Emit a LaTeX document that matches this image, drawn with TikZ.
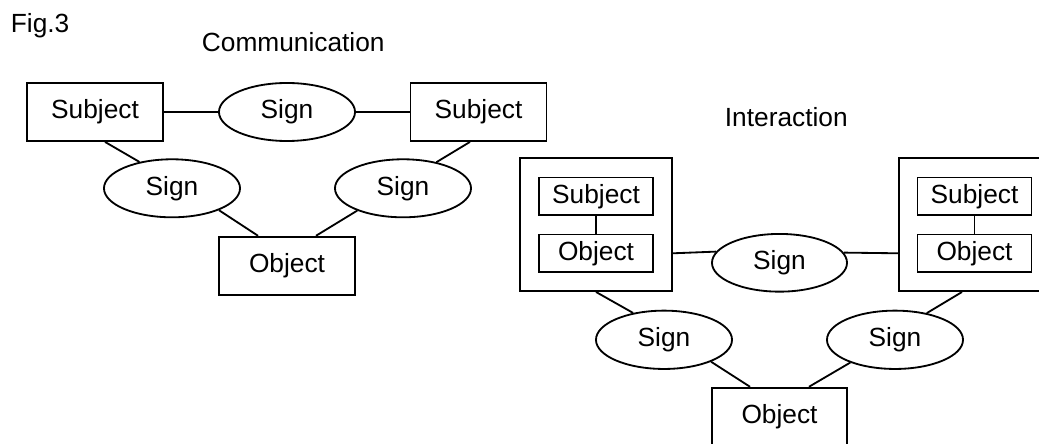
\documentclass[tikz,border=0pt]{standalone}
\usepackage{fontspec}
\setmainfont{Liberation Sans}
\usetikzlibrary{shapes.geometric,calc}

\tikzset{
  base/.style={line width=1.3pt, inner sep=0pt, font=\fontsize{18.7}{22}\selectfont},
  box/.style={base, draw, rectangle, minimum width=3.4cm, minimum height=1.45cm},
  sign/.style={base, draw, ellipse, minimum width=3.4cm, minimum height=1.45cm},
  outer/.style={base, draw, rectangle, minimum width=3.8cm, minimum height=3.3175cm},
  inner/.style={base, draw, rectangle, minimum width=2.85cm, minimum height=0.9375cm},
  label/.style={base, anchor=base west},
  link/.style={line width=1.3pt}
}

\begin{document}
\begin{tikzpicture}[x=0.025cm, y=-0.025cm]
\useasboundingbox (0,0) rectangle (1039,444);
\clip (0,0) rectangle (1039,444);

% titles
\node[label] (fig)  at (10,32.5)  {Fig.3};
\node[label] (comm) at (201,51.5) {Communication};
\node[label] (inter) at (724,126.5) {Interaction};

% communication triangle
\node[box]  (subjL) at (95,112)   {Subject};
\node[sign] (signT) at (287,112)  {Sign};
\node[box]  (subjR) at (478.5,112) {Subject};
\node[sign] (signL) at (172,188.3) {Sign};
\node[sign] (signR) at (403,188.3) {Sign};
\node[box]  (objB)  at (287,265.7) {Object};

\draw[link] (subjL.east) -- (signT.west);
\draw[link] (signT.east) -- (subjR.west);
\draw[link] ($(subjL.south)+(10,0)$) -- (signL.141.3);
\draw[link] ($(subjR.south)+(-8.5,0)$) -- (signR.38.7);
\draw[link] (signL.-25.3) -- ($(objB.north)+(-29,0)$);
\draw[link] (signR.-154.7) -- ($(objB.north)+(29,0)$);

% interaction triangle
\node[outer] (outL) at (596,224.7) {};
\node[inner] (subjInL) at (596,196.3) {Subject};
\node[inner] (objInL)  at (596,253.3) {Object};
\draw[link] (subjInL.south) -- (objInL.north);

\node[outer] (outR) at (975,224.7) {};
\node[inner] (subjInR) at (974.5,196.3) {Subject};
\node[inner] (objInR)  at (974.5,253.3) {Object};
\draw[link] (subjInR.south) -- (objInR.north);

\node[sign, minimum width=3.375cm, minimum height=1.4425cm] (signM) at (779.5,262.8) {Sign};
\node[sign, minimum height=1.4575cm] (signLL) at (664,339.8) {Sign};
\node[sign, minimum height=1.4575cm] (signLR) at (895,339.8) {Sign};
\node[box, minimum width=3.375cm] (objBot) at (779.5,416.7) {Object};

\draw[link] (outL.east |- objInL.east) -- (signM.170.9);
\draw[link] (signM.9.1) -- (outR.west |- objInR.west);
\draw[link] (outL.south) -- (signLL.139.1);
\draw[link] ($(outR.south)+(-13,0)$) -- (signLR.40.5);
\draw[link] (signLL.-25.6) -- ($(objBot.north)+(-29.5,0)$);
\draw[link] (signLR.-153.7) -- ($(objBot.north)+(29.5,0)$);
\end{tikzpicture}
\end{document}
